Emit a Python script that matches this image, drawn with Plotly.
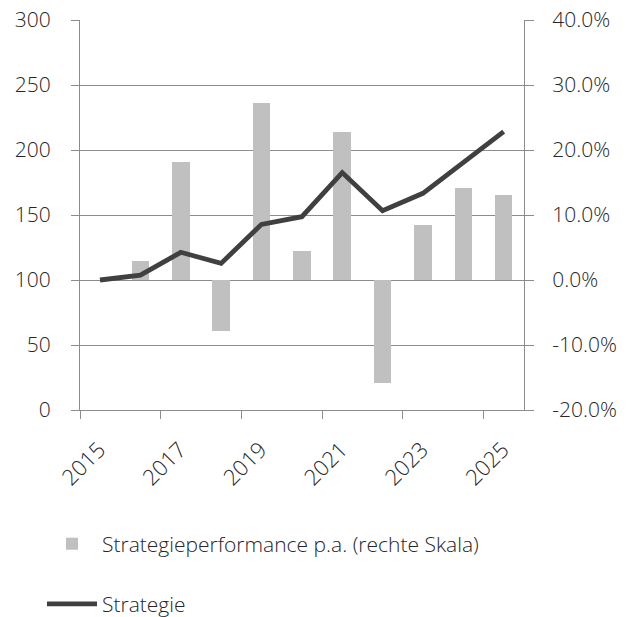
import plotly.graph_objects as go

years = [2015, 2016, 2017, 2018, 2019, 2020, 2021, 2022, 2023, 2024, 2025]
strategie = [100, 103.8, 121.3, 112.8, 142.8, 148.7, 182.6, 153.3, 166.7, 190.3, 214.1]
perf_pa = [None, 0.029, 0.181, -0.078, 0.272, 0.044, 0.228, -0.158, 0.085, 0.141, 0.131]

right_ticks = [-0.2, -0.1, 0.0, 0.1, 0.2, 0.3, 0.4]
right_labels = ["-20.0%", "-10.0%", "0.0%", "10.0%", "20.0%", "30.0%", "40.0%"]
left_ticks = [0, 50, 100, 150, 200, 250, 300]
left_labels = ["0", "50", "100", "150", "200", "250", "300"]

bar_name = "Strategieperformance p.a. (rechte Skala)"
line_name = "Strategie"

x_dates = [f"{y}-07-01" for y in years]
year_ms = 365.25 * 24 * 3600 * 1000

FONT = "Open Sans"
TXT = "#262626"
AX = "#8c8c8c"
FS = 21

fig = go.Figure()
fig.add_trace(go.Bar(
    x=x_dates, y=perf_pa, name=bar_name, yaxis="y",
    marker=dict(color="#c0c0c0", line=dict(width=0)),
    width=0.437 * year_ms, legendgroup="a",
))
fig.add_trace(go.Scatter(
    x=x_dates, y=strategie, name=line_name, yaxis="y2", mode="lines",
    line=dict(color="#404040", width=4.8), legendgroup="b",
))

fig.update_layout(
    width=634, height=617,
    margin=dict(l=80, r=110, t=20, b=207),
    paper_bgcolor="white", plot_bgcolor="white",
    font=dict(family=FONT, size=FS, color=TXT, weight=300),
    showlegend=True,
    bargap=0,
    xaxis=dict(
        type="date", range=["2015-01-01", "2026-01-01"],
        tick0="2015-01-01", dtick="M24", tickformat="%Y", tickangle=-45,
        tickfont=dict(size=22),
        ticks="outside", ticklen=8, tickcolor=AX, tickwidth=1.3,
        showline=True, linecolor=AX, linewidth=1.3, showgrid=False,
        zeroline=False, ticklabelshift=19, ticklabelstandoff=9,
        automargin=False, ticklabeloverflow="allow",
    ),
    yaxis=dict(
        side="right", range=[-0.2, 0.4],
        tickmode="array", tickvals=right_ticks, ticktext=right_labels,
        ticks="outside", ticklen=9, tickcolor=AX, tickwidth=1.3,
        showline=True, linecolor=AX, linewidth=1.3,
        showgrid=True, gridcolor=AX, gridwidth=1.3, zeroline=False,
        ticklabelstandoff=14, automargin=False, ticklabeloverflow="allow",
    ),
    yaxis2=dict(
        side="left", overlaying="y", range=[0, 300],
        tickmode="array", tickvals=left_ticks, ticktext=left_labels,
        ticks="outside", ticklen=8, tickcolor=AX, tickwidth=1.3,
        showline=True, linecolor=AX, linewidth=1.3,
        showgrid=False, zeroline=False, ticklabelstandoff=16,
        automargin=False, ticklabeloverflow="allow",
    ),
    legend=dict(
        xref="paper", yref="container",
        x=-0.0856, xanchor="left", y=1 - 523.5 / 617, yanchor="top",
        orientation="v", traceorder="grouped", tracegroupgap=30,
        font=dict(family=FONT, size=FS, color=TXT, weight=300),
        itemwidth=50, bgcolor="rgba(0,0,0,0)",
    ),
)

fig.write_html(
    "out.html",
    config={"displayModeBar": False},
    post_script="document.body.style.margin='0px';",
)
